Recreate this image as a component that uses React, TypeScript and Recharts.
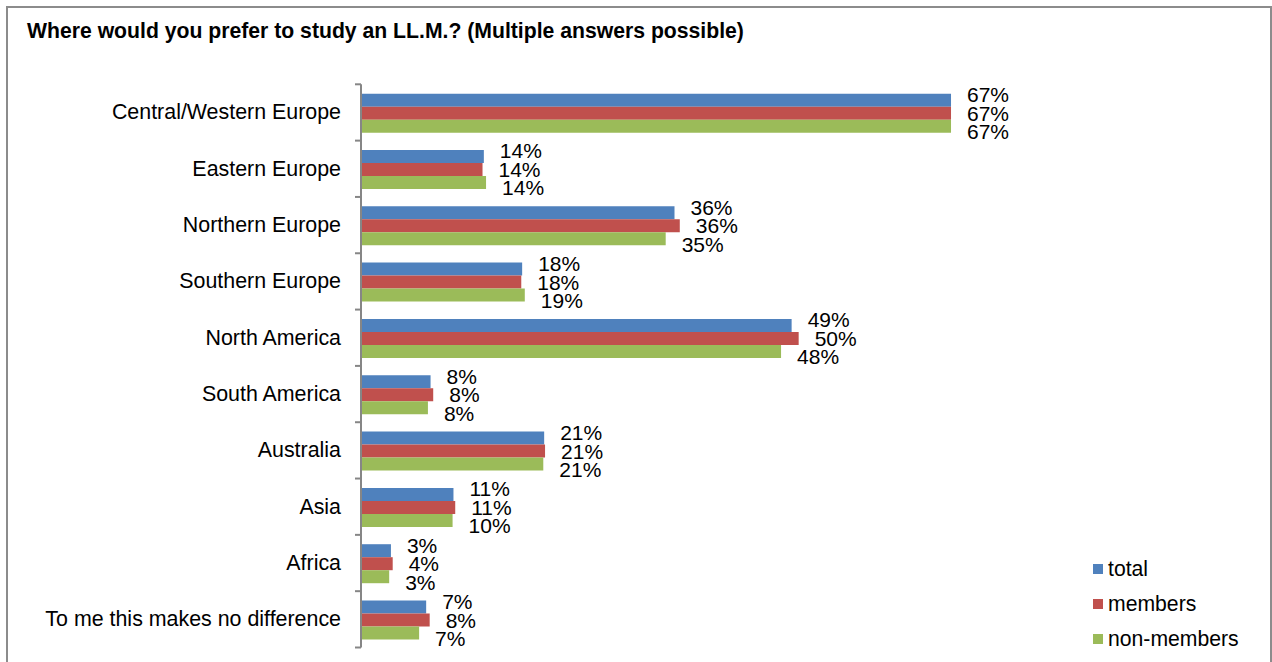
import React from 'react';
import { BarChart, Bar, XAxis, YAxis, LabelList } from 'recharts';

const categories = [
  'Central/Western Europe',
  'Eastern Europe',
  'Northern Europe',
  'Southern Europe',
  'North America',
  'South America',
  'Australia',
  'Asia',
  'Africa',
  'To me this makes no difference',
];
const totalValues = [67, 13.95, 35.6, 18.3, 48.9, 7.9, 20.8, 10.5, 3.4, 7.4];
const memberValues = [67, 13.8, 36.2, 18.2, 49.7, 8.2, 20.9, 10.7, 3.6, 7.8];
const nonMemberValues = [67, 14.2, 34.6, 18.6, 47.7, 7.6, 20.7, 10.4, 3.2, 6.6];

const seriesNames = ['total', 'members', 'non-members'];
const seriesKeys = ['total', 'members', 'nonMembers'];
const seriesColors = ['#4F81BD', '#C0504D', '#9BBB59'];

const data = categories.map((c, i) => ({
  name: c,
  total: totalValues[i],
  members: memberValues[i],
  nonMembers: nonMemberValues[i],
}));

const FONT = '"Liberation Sans", Arial, sans-serif';
const FS = 21;
const W = 1272;
const H = 662;
const TOP = 84.3;
const BOTTOM = 647.5;
const BAND = (BOTTOM - TOP) / categories.length;

const makeLabel = (dy: number) => (props: any) => {
  const { x, y, width, height, value } = props;
  return (
    <text
      x={x + width + 16}
      y={y + height / 2 + dy}
      dominantBaseline="central"
      fontSize={FS}
      fontFamily={FONT}
      fill="#000"
    >
      {Math.round(value) + '%'}
    </text>
  );
};

const labelOffsets = [-5.5, 0, 5.5];

const CategoryTick = (props: any) => {
  const { y, payload, index } = props;
  return (
    <g>
      <text
        x={341}
        y={y}
        textAnchor="end"
        dominantBaseline="central"
        fontSize={21.4}
        fontFamily={FONT}
        fill="#000"
      >
        {payload.value}
      </text>
      <line x1={355} x2={361} y1={y - BAND / 2} y2={y - BAND / 2} stroke="#868686" strokeWidth={2} />
      {index === categories.length - 1 && (
        <line x1={355} x2={361} y1={y + BAND / 2} y2={y + BAND / 2} stroke="#868686" strokeWidth={2} />
      )}
    </g>
  );
};

export default function App() {
  return (
    <div style={{ position: 'absolute', left: 0, top: 0, width: W, height: H, background: '#fff', overflow: 'hidden' }}>
      <div
        style={{
          position: 'absolute',
          left: 6,
          top: 6,
          width: 1262,
          height: 700,
          border: '2px solid #8C8C8C',
        }}
      />
      <div
        style={{
          position: 'absolute',
          left: 27,
          top: 18,
          fontFamily: FONT,
          fontWeight: 'bold',
          fontSize: 21.2,
          lineHeight: '26px',
          color: '#000',
          whiteSpace: 'nowrap',
        }}
      >
        Where would you prefer to study an LL.M.? (Multiple answers possible)
      </div>
      <div style={{ position: 'absolute', left: 0, top: 0 }}>
        <BarChart
          width={W}
          height={H}
          data={data}
          layout="vertical"
          margin={{ top: TOP, bottom: H - BOTTOM, left: 0, right: W - 1065.5 }}
          barCategoryGap="16.6%"
          barGap={0}
        >
          <XAxis type="number" domain={[0, 80]} hide />
          <YAxis
            type="category"
            dataKey="name"
            width={361}
            axisLine={{ stroke: '#868686', strokeWidth: 2 }}
            tickLine={false}
            tick={<CategoryTick />}
            interval={0}
          />
          {seriesKeys.map((k, i) => (
            <Bar key={k} dataKey={k} name={seriesNames[i]} fill={seriesColors[i]} isAnimationActive={false}>
              <LabelList dataKey={k} content={makeLabel(labelOffsets[i])} />
            </Bar>
          ))}
        </BarChart>
      </div>
      <div
        style={{
          position: 'absolute',
          left: 1093,
          top: 551,
          fontFamily: FONT,
          fontSize: 21.2,
          color: '#000',
        }}
      >
        {seriesNames.map((n, i) => (
          <div key={n} style={{ display: 'flex', alignItems: 'center', height: 35, whiteSpace: 'nowrap' }}>
            <span
              style={{
                display: 'inline-block',
                width: 10,
                height: 10,
                background: seriesColors[i],
                marginRight: 5,
              }}
            />
            <span>{n}</span>
          </div>
        ))}
      </div>
    </div>
  );
}
